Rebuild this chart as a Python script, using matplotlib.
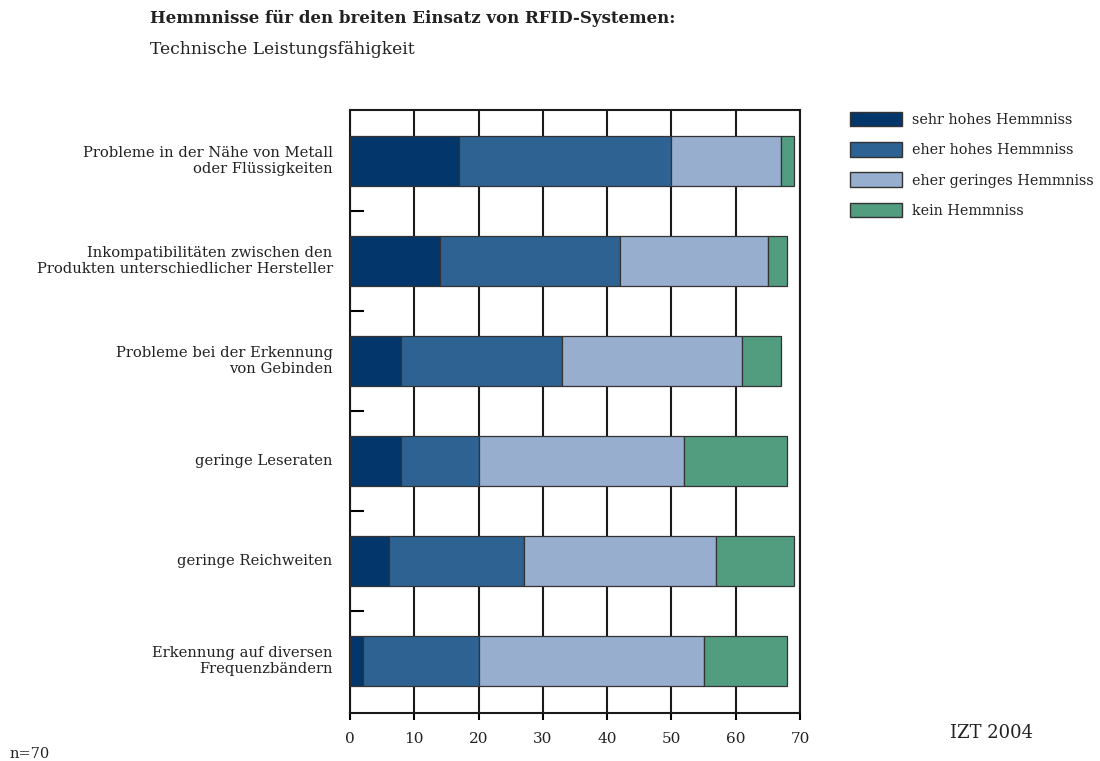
import matplotlib
matplotlib.use('Agg')
import matplotlib.pyplot as plt
from matplotlib.patches import Patch

plt.rcParams['font.family'] = ['DejaVu Serif']

categories = ['Probleme in der Nähe von Metall\noder Flüssigkeiten',
              'Inkompatibilitäten zwischen den\nProdukten unterschiedlicher Hersteller',
              'Probleme bei der Erkennung\nvon Gebinden',
              'geringe Leseraten',
              'geringe Reichweiten',
              'Erkennung auf diversen\nFrequenzbändern']
sehr_hoch = [17, 14, 8, 8, 6, 2]
eher_hoch = [33, 28, 25, 12, 21, 18]
eher_gering = [17, 23, 28, 32, 30, 35]
kein = [2, 3, 6, 16, 12, 13]
series_names = ['sehr hohes Hemmniss', 'eher hohes Hemmniss',
                'eher geringes Hemmniss', 'kein Hemmniss']
colors = ['#03366b', '#2d6293', '#97aecf', '#529c80']
xticks = [0, 10, 20, 30, 40, 50, 60, 70]

fig = plt.figure(figsize=(11, 7.61), dpi=100)
ax = fig.add_axes([350/1100, 48/761, 450/1100, 603/761])

ypos = list(range(len(categories)))[::-1]
left = [0] * len(categories)
for vals, name, c in zip([sehr_hoch, eher_hoch, eher_gering, kein], series_names, colors):
    ax.barh(ypos, vals, left=left, height=0.5, color=c, edgecolor='#333333',
            linewidth=0.9, zorder=3, label=name)
    left = [a + b for a, b in zip(left, vals)]

ax.set_xlim(0, 70)
ax.set_ylim(-0.52, 5.51)
ax.set_xticks(xticks)
ax.set_xticklabels([str(t) for t in xticks], fontsize=11, color='#222222')
ax.xaxis.grid(True, color='#1a1a1a', linewidth=1.5, zorder=0)
ax.set_axisbelow(True)
ax.tick_params(axis='x', direction='out', length=5, width=1.5, pad=9)

ax.set_yticks([y + 0.5 for y in range(5)])
ax.set_yticklabels([])
ax.tick_params(axis='y', direction='in', length=10, width=1.5)
for y, lab in zip(ypos, categories):
    ax.text(-2.7, y, lab, ha='right', va='center', fontsize=10.6,
            color='#222222', linespacing=1.1)

for s in ax.spines.values():
    s.set_color('#1a1a1a')
    s.set_linewidth(1.5)

handles = [Patch(facecolor=c, edgecolor='#333333', label=n) for c, n in zip(colors, series_names)]
fig.legend(handles=handles, loc='upper left', bbox_to_anchor=(837/1100, 1 - 99/761),
           frameon=False, fontsize=10.4, handlelength=3.6, handleheight=1.15,
           labelspacing=1.05, handletextpad=0.7, labelcolor='#222222')

fig.text(150/1100, 1 - 18/761, 'Hemmnisse für den breiten Einsatz von RFID-Systemen:',
         fontsize=12, fontweight='bold', va='center', color='#222222')
fig.text(150/1100, 1 - 50/761, 'Technische Leistungsfähigkeit',
         fontsize=12.3, va='center', color='#222222')
fig.text(10/1100, 1 - 754/761, 'n=70', fontsize=10.5, va='center', color='#222222')
fig.text(950/1100, 1 - 733/761, 'IZT 2004', fontsize=13, va='center', color='#222222')

fig.savefig('out.png', dpi=100)
